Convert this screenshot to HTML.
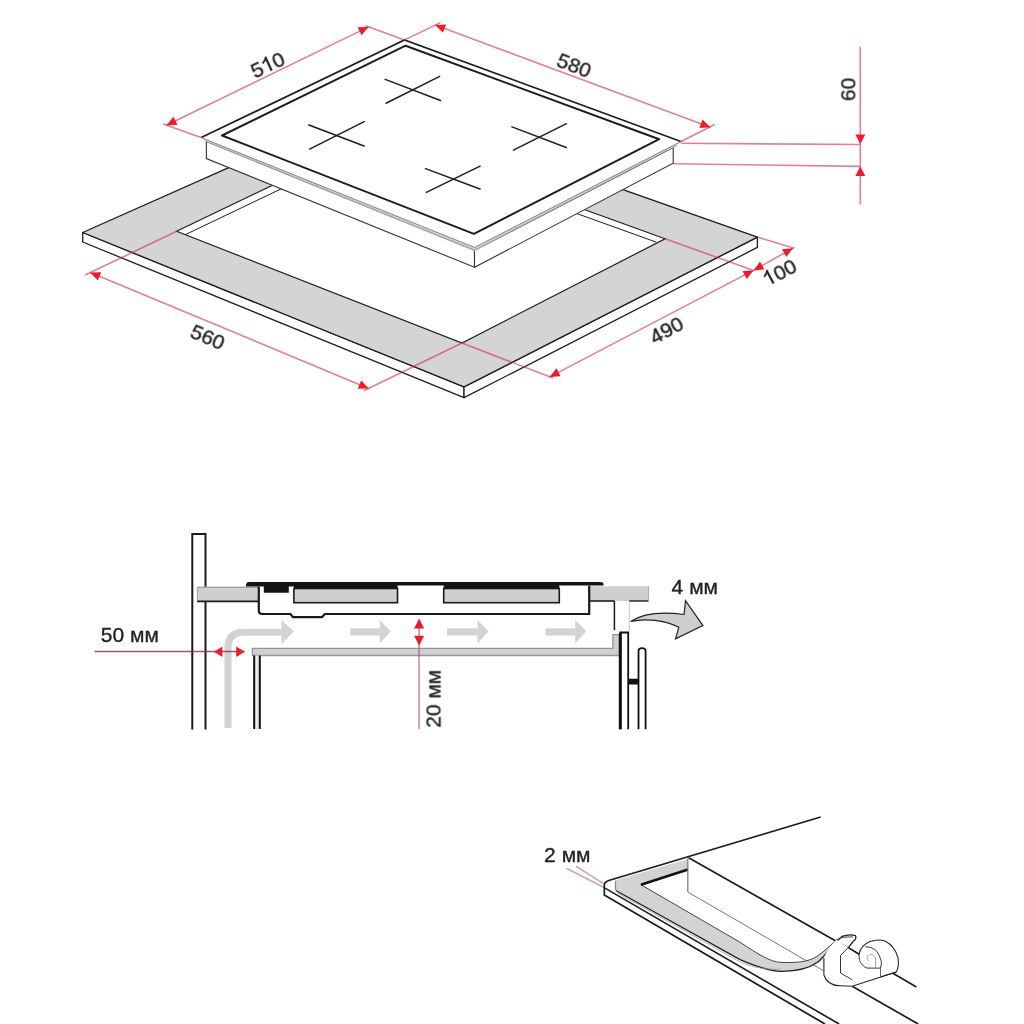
<!DOCTYPE html>
<html><head><meta charset="utf-8"><style>
html,body{margin:0;padding:0;background:#fff;}
svg{display:block;font-family:"Liberation Sans",sans-serif;}
text{will-change:transform;}
</style></head><body>
<svg width="1024" height="1024" viewBox="0 0 1024 1024">
<g>
<rect width="1024" height="1024" fill="#fff"/>
<polygon points="82.7,232.5 464.0,386.9 464.0,397.7 82.7,242.0" fill="#fff" stroke="#1e1e1e" stroke-width="1.3" stroke-linejoin="round"/>
<polygon points="464.0,386.9 757.4,237.1 757.4,247.4 464.0,397.7" fill="#fff" stroke="#1e1e1e" stroke-width="1.3" stroke-linejoin="round"/>
<polygon points="82.7,232.5 375.8,102.3 757.4,237.1 464.0,386.9" fill="#d4d4d6" stroke="#1e1e1e" stroke-width="1.3" stroke-linejoin="round"/>
<polygon points="176.6,231.3 378.1,134.6 665.0,238.8 462.0,343.0" fill="#fff" stroke="#1e1e1e" stroke-width="1.2" />
<line x1="185.4" y1="234.6" x2="378.7" y2="142.3" stroke="#1e1e1e" stroke-width="1.0" />
<line x1="656.4" y1="242.2" x2="378.7" y2="142.3" stroke="#1e1e1e" stroke-width="1.0" />
<polygon points="206.4,141.5 474.5,250.5 474.5,267.3 206.4,158.6" fill="#fff" stroke="#333" stroke-width="1.1" />
<polygon points="474.5,250.5 673.2,147.5 673.2,163.2 474.5,267.3" fill="#fff" stroke="#333" stroke-width="1.1" />
<polygon points="201.2,137.6 404.5,39.9 680.9,141.5 676.9,145.0 474.5,250.9 204.2,141.1" fill="#fff" stroke="none" stroke-width="1" />
<polyline points="201.2,137.6 404.5,39.9 680.9,141.5" fill="none" stroke="#1e1e1e" stroke-width="1.7" />
<polygon points="201.2,137.6 474.5,247.4 680.9,141.5 676.5,145.8 474.5,250.2 205.5,141.2" fill="#d0d0d0" stroke="none" stroke-width="1" />
<polyline points="201.2,137.6 474.5,247.4 680.9,141.5" fill="none" stroke="#7a7a7a" stroke-width="0.9" />
<polyline points="205.5,141.2 474.5,250.2 676.5,145.8" fill="none" stroke="#8a8a8a" stroke-width="0.8" />
<polygon points="222.0,135.5 405.6,45.7 659.2,139.2 473.9,233.9" fill="none" stroke="#1e1e1e" stroke-width="2.0" stroke-linejoin="round"/>
<line x1="384.6" y1="79.1" x2="441.1" y2="100.7" stroke="#1e1e1e" stroke-width="1.5" />
<line x1="385.5" y1="103.5" x2="440.2" y2="76.1" stroke="#1e1e1e" stroke-width="1.5" />
<line x1="308.3" y1="124.7" x2="364.7" y2="146.3" stroke="#1e1e1e" stroke-width="1.5" />
<line x1="309.1" y1="149.3" x2="364.7" y2="121.4" stroke="#1e1e1e" stroke-width="1.5" />
<line x1="511.3" y1="126.6" x2="566.9" y2="147.8" stroke="#1e1e1e" stroke-width="1.5" />
<line x1="512.9" y1="150.3" x2="566.9" y2="123.3" stroke="#1e1e1e" stroke-width="1.5" />
<line x1="424.9" y1="168.4" x2="480.6" y2="189.3" stroke="#1e1e1e" stroke-width="1.5" />
<line x1="425.8" y1="192.7" x2="480.6" y2="165.9" stroke="#1e1e1e" stroke-width="1.5" />
<line x1="201.2" y1="137.6" x2="163.2" y2="124.0" stroke="#d42a48" stroke-opacity="0.6" stroke-width="1.6"/>
<line x1="404.5" y1="39.9" x2="365.5" y2="25.8" stroke="#d42a48" stroke-opacity="0.6" stroke-width="1.6"/>
<line x1="166.5" y1="125.2" x2="368.6" y2="26.9" stroke="#d42a48" stroke-opacity="0.6" stroke-width="1.6"/>
<polygon points="166.5,125.2 173.5,116.8 177.5,124.9" fill="#ec1c2c" stroke="none" stroke-width="1" />
<polygon points="368.6,26.9 361.6,35.3 357.6,27.2" fill="#ec1c2c" stroke="none" stroke-width="1" />
<line x1="404.5" y1="39.9" x2="440.5" y2="22.6" stroke="#d42a48" stroke-opacity="0.6" stroke-width="1.6"/>
<line x1="680.9" y1="141.5" x2="714.8" y2="124.5" stroke="#d42a48" stroke-opacity="0.6" stroke-width="1.6"/>
<line x1="435.2" y1="25.1" x2="710.3" y2="127.3" stroke="#d42a48" stroke-opacity="0.6" stroke-width="1.6"/>
<polygon points="435.2,25.1 446.1,24.4 443.0,32.8" fill="#ec1c2c" stroke="none" stroke-width="1" />
<polygon points="710.3,127.3 699.4,128.0 702.5,119.6" fill="#ec1c2c" stroke="none" stroke-width="1" />
<line x1="680.9" y1="143.3" x2="859.7" y2="144.5" stroke="#d42a48" stroke-opacity="0.6" stroke-width="1.6"/>
<line x1="673.2" y1="163.8" x2="859.7" y2="166.4" stroke="#d42a48" stroke-opacity="0.6" stroke-width="1.6"/>
<line x1="860.3" y1="46.7" x2="860.3" y2="204.4" stroke="#d42a48" stroke-opacity="0.6" stroke-width="1.6"/>
<polygon points="860.3,144.1 855.3,134.6 865.3,134.6" fill="#ec1c2c" stroke="none" stroke-width="1" />
<polygon points="860.3,166.4 865.3,175.9 855.3,175.9" fill="#ec1c2c" stroke="none" stroke-width="1" />
<line x1="176.6" y1="231.3" x2="85.2" y2="275.0" stroke="#d42a48" stroke-opacity="0.6" stroke-width="1.6"/>
<line x1="462.0" y1="343.0" x2="363.8" y2="390.8" stroke="#d42a48" stroke-opacity="0.6" stroke-width="1.6"/>
<line x1="90.3" y1="272.5" x2="368.7" y2="388.4" stroke="#d42a48" stroke-opacity="0.6" stroke-width="1.6"/>
<polygon points="90.3,272.5 101.3,272.2 97.8,280.5" fill="#ec1c2c" stroke="none" stroke-width="1" />
<polygon points="368.7,388.4 357.7,388.7 361.2,380.4" fill="#ec1c2c" stroke="none" stroke-width="1" />
<line x1="462.0" y1="343.0" x2="552.9" y2="378.1" stroke="#d42a48" stroke-opacity="0.6" stroke-width="1.6"/>
<line x1="665.0" y1="238.8" x2="753.5" y2="270.4" stroke="#d42a48" stroke-opacity="0.6" stroke-width="1.6"/>
<line x1="549.7" y1="376.9" x2="753.5" y2="270.4" stroke="#d42a48" stroke-opacity="0.6" stroke-width="1.6"/>
<polygon points="549.7,376.9 556.5,368.3 560.6,376.3" fill="#ec1c2c" stroke="none" stroke-width="1" />
<polygon points="753.5,270.4 746.7,279.0 742.6,271.0" fill="#ec1c2c" stroke="none" stroke-width="1" />
<line x1="757.4" y1="237.1" x2="794.3" y2="248.2" stroke="#d42a48" stroke-opacity="0.6" stroke-width="1.6"/>
<line x1="753.5" y1="270.4" x2="792.9" y2="248.2" stroke="#d42a48" stroke-opacity="0.6" stroke-width="1.6"/>
<polygon points="753.5,270.4 760.0,261.6 764.4,269.4" fill="#ec1c2c" stroke="none" stroke-width="1" />
<polygon points="792.9,248.2 786.4,257.0 782.0,249.2" fill="#ec1c2c" stroke="none" stroke-width="1" />
<g transform="translate(267.4 64.1) rotate(-25)"><text x="-11.68" y="7.52" font-size="21" text-anchor="middle" fill="#222" stroke="#222" stroke-width="0.35">5</text><polygon points="0.15,7.52 2.02,7.52 2.02,-7.52 0.80,-7.52 0.25,-6.59 -0.80,-5.54 -2.48,-4.37 -3.84,-3.72 -3.84,-1.97 -2.27,-2.73 -0.90,-3.61 0.15,-4.41" fill="#222" stroke="#222" stroke-width="0.35"/><text x="11.68" y="7.52" font-size="21" text-anchor="middle" fill="#222" stroke="#222" stroke-width="0.35">0</text></g>
<g transform="translate(574.5 64.6) rotate(21)"><text x="0" y="7.52" font-size="21" text-anchor="middle" fill="#222" stroke="#222" stroke-width="0.35" >580</text></g>
<g transform="translate(847.3 89.4) rotate(-90)"><text x="0" y="7.52" font-size="21" text-anchor="middle" fill="#222" stroke="#222" stroke-width="0.35" >60</text></g>
<g transform="translate(208.1 336.3) rotate(23)"><text x="0" y="7.52" font-size="21" text-anchor="middle" fill="#222" stroke="#222" stroke-width="0.35" >560</text></g>
<g transform="translate(666.1 329.3) rotate(-28)"><text x="0" y="7.52" font-size="21" text-anchor="middle" fill="#222" stroke="#222" stroke-width="0.35" >490</text></g>
<g transform="translate(779.3 271.8) rotate(-28)"><polygon points="-11.53,7.52 -9.66,7.52 -9.66,-7.52 -10.88,-7.52 -11.42,-6.59 -12.47,-5.54 -14.15,-4.37 -15.52,-3.72 -15.52,-1.97 -13.94,-2.73 -12.58,-3.61 -11.53,-4.41" fill="#222" stroke="#222" stroke-width="0.35"/><text x="0.00" y="7.52" font-size="21" text-anchor="middle" fill="#222" stroke="#222" stroke-width="0.35">0</text><text x="11.68" y="7.52" font-size="21" text-anchor="middle" fill="#222" stroke="#222" stroke-width="0.35">0</text></g>
<path d="M192.3,729.5 L192.3,534.1 L205.5,534.1 L205.5,729.5" fill="none" stroke="#1a1a1a" stroke-width="2" />
<rect x="197" y="586.8" width="61.8" height="14.6" fill="#cfcfd1" stroke="none"/>
<line x1="197.0" y1="587.2" x2="258.8" y2="587.2" stroke="#888" stroke-width="0.9" />
<line x1="197.0" y1="601.4" x2="258.8" y2="601.4" stroke="#1a1a1a" stroke-width="1.6" />
<line x1="197.3" y1="587.0" x2="197.3" y2="601.4" stroke="#999" stroke-width="0.8" />
<rect x="589.8" y="586.2" width="58.8" height="14.8" fill="#cfcfd1" stroke="none"/>
<polyline points="589.8,601.0 614.4,601.0" fill="none" stroke="#1a1a1a" stroke-width="1.6" />
<polyline points="629.0,601.0 648.6,601.0" fill="none" stroke="#1a1a1a" stroke-width="1.4" />
<line x1="648.6" y1="586.2" x2="648.6" y2="601.0" stroke="#aaa" stroke-width="1.0" />
<line x1="614.4" y1="601.0" x2="614.4" y2="630.2" stroke="#1a1a1a" stroke-width="1.5" />
<line x1="629.3" y1="601.0" x2="629.3" y2="631.0" stroke="#c8c8c8" stroke-width="1.0" />
<path d="M258.8,586.4 L258.8,610.5 Q258.8,614 262.5,614 L290.5,614 L293,617.1 L322,617.1 L324.8,614 L589.2,614 L589.2,585.8" fill="none" stroke="#1a1a1a" stroke-width="2.2" />
<rect x="293.9" y="588.5" width="103.6" height="14.2" fill="#cfcfd1" stroke="#1a1a1a" stroke-width="1.6"/>
<rect x="443.7" y="588.5" width="115.6" height="14.2" fill="#cfcfd1" stroke="#1a1a1a" stroke-width="1.6"/>
<path d="M249,582.1 L600,582.1 Q603.5,582.1 603.5,584 L603.5,585.6 L559.3,585.6 L559.3,588.8 L443.7,588.8 L443.7,585.6 L397.6,585.6 L397.6,588.8 L293.9,588.8 L293.9,586.4 L288.8,586.4 L288.8,592.7 L263.8,592.7 L263.8,586.4 L245.9,586.4 Q245.9,582.1 249,582.1 Z" fill="#141414" stroke="none" stroke-width="1" />
<path d="M252.4,648.4 L612.9,648.4 L612.9,634.7 L619.4,634.7 L619.4,655.5 L252.4,655.5 Z" fill="#cfcfd1" stroke="#979799" stroke-width="1.3" />
<rect x="254.3" y="655.5" width="5.4" height="73.5" fill="#ececec" stroke="none"/>
<line x1="254.2" y1="655.5" x2="254.2" y2="729.0" stroke="#111" stroke-width="2" />
<line x1="259.8" y1="655.5" x2="259.8" y2="729.0" stroke="#111" stroke-width="2" />
<rect x="620" y="632.5" width="8" height="97" fill="#fff" stroke="none"/>
<path d="M620.3,729.3 L620.3,632.5 L628.2,632.5 L628.2,729.3" fill="none" stroke="#111" stroke-width="1.8" />
<line x1="620.3" y1="633.0" x2="620.3" y2="729.3" stroke="#111" stroke-width="3" />
<path d="M638.5,729.3 L638.5,651.5 Q638.5,648.2 642,648.2 Q645.6,648.2 645.6,651.5 L645.6,729.3" fill="#fff" stroke="#111" stroke-width="1.8" />
<rect x="628.2" y="678.7" width="10.3" height="5.8" fill="#111"/>
<path d="M228,728 L228,648 Q228,632.3 243.7,632.3 L281.4,632.3" fill="none" stroke="#d3d3d5" stroke-width="7" />
<polygon points="281.4,620.3 293.9,631.3 281.4,644.5" fill="#d3d3d5" stroke="none" stroke-width="1" />
<rect x="350.2" y="628.3" width="29.600000000000023" height="7.2" fill="#d3d3d5"/>
<polygon points="379.8,620.1 390.8,631.3 379.8,643.5" fill="#d3d3d5" stroke="none" stroke-width="1" />
<rect x="447.1" y="628.3" width="30.299999999999955" height="7.2" fill="#d3d3d5"/>
<polygon points="477.4,620.1 488.6,631.3 477.4,643.5" fill="#d3d3d5" stroke="none" stroke-width="1" />
<rect x="545.3" y="628.3" width="29.90000000000009" height="7.2" fill="#d3d3d5"/>
<polygon points="575.2,620.1 586.3,631.3 575.2,643.5" fill="#d3d3d5" stroke="none" stroke-width="1" />
<line x1="94.4" y1="651.5" x2="244.7" y2="651.5" stroke="#8a2a40" stroke-opacity="0.8" stroke-width="1.5"/>
<polygon points="213.9,651.7 222.4,646.5 222.4,657.0" fill="#ec1c2c" stroke="none" stroke-width="1" />
<polygon points="244.7,651.7 236.2,657.0 236.2,646.5" fill="#ec1c2c" stroke="none" stroke-width="1" />
<line x1="419.1" y1="625.0" x2="419.1" y2="729.2" stroke="#b03060" stroke-opacity="0.5" stroke-width="1.8"/>
<polygon points="419.1,618.5 424.1,628.5 414.1,628.5" fill="#ec1c2c" stroke="none" stroke-width="1" />
<polygon points="419.1,645.8 414.1,635.8 424.1,635.8" fill="#ec1c2c" stroke="none" stroke-width="1" />
<path d="M630.7,621.5 C645,612 665,612 684,614.5 L685.5,600.7 L702.9,625.6 L675.5,638.9 L678.8,627.3 C665,620 645,618 630.7,621.5 Z" fill="#cfcfd1" stroke="#222" stroke-width="1.2" />
<g transform="translate(129.9 634.6) rotate(0)"><text x="0" y="7.52" font-size="21" text-anchor="middle" fill="#222" stroke="#222" stroke-width="0.35" >50 мм</text></g>
<g transform="translate(694.8 586.5) rotate(0)"><text x="0" y="7.52" font-size="21" text-anchor="middle" fill="#222" stroke="#222" stroke-width="0.35" >4 мм</text></g>
<g transform="translate(432.5 698.8) rotate(-90)"><text x="0" y="7.52" font-size="21" text-anchor="middle" fill="#222" stroke="#222" stroke-width="0.35" >20 мм</text></g>
<g transform="translate(567.3 854.3) rotate(0)"><text x="0" y="7.52" font-size="21" text-anchor="middle" fill="#222" stroke="#222" stroke-width="0.35" >2 мм</text></g>
<line x1="566.3" y1="868.3" x2="604.5" y2="887.8" stroke="#a03050" stroke-opacity="0.45" stroke-width="1.6"/>
<line x1="576.1" y1="866.3" x2="603.5" y2="883.6" stroke="#a03050" stroke-opacity="0.45" stroke-width="1.6"/>
<line x1="688.6" y1="857.7" x2="895.0" y2="974.5" stroke="#1a1a1a" stroke-width="1.6" />
<line x1="687.8" y1="892.0" x2="823.4" y2="970.6" stroke="#555" stroke-width="0.8" />
<path d="M615.5,880.3 L688,859.0 L688,869.5 L640.9,884.7 L740,942.2 C758,954 770,962 781,962.4 C795,963 808,962 816,957 C825,951 831,945 836,940 L841.9,936.4 C833,945 828,953 818,962 C808,969 797,971.5 781,971.3 C768,971 755,966 740,959.6 L615.8,890.5 Z" fill="#d3d3d5" stroke="none" stroke-width="1" />
<path d="M615.8,890.5 L740,959.6 C755,966 768,971 781,971.3 C797,971.5 808,969 818,962 C828,953 833,945 841.9,936.4 C846,935 852,934.5 855.5,935.7 C856.5,938 855,940 853.5,941 L848.3,947.6" fill="none" stroke="#222" stroke-width="1.3" />
<path d="M640.9,884.7 L740,942.2 C758,954 770,962 781,962.4 C795,963 808,962 816,957 C825,951 831,945 836,940 C840,937.5 846,936.5 853,937" fill="none" stroke="#444" stroke-width="1.0" />
<path d="M617.6,893 L740,962 C756,968.5 769,970 781,969" fill="none" stroke="#999" stroke-width="0.8" />
<path d="M820.6,817 L609.6,880.3 Q604.3,882 604.3,885 L604.3,894.9 L825,1024" fill="none" stroke="#1a1a1a" stroke-width="1.7" />
<line x1="605.0" y1="888.2" x2="839.1" y2="1024.0" stroke="#1a1a1a" stroke-width="1.5" />
<line x1="640.9" y1="884.7" x2="688.0" y2="869.5" stroke="#111" stroke-width="2.6" />
<line x1="615.5" y1="880.8" x2="615.5" y2="890.3" stroke="#888" stroke-width="1.2" />
<line x1="687.8" y1="858.5" x2="687.8" y2="892.0" stroke="#777" stroke-width="1.2" />
<line x1="852.2" y1="986.2" x2="918.2" y2="1024.0" stroke="#1a1a1a" stroke-width="1.6" />
<line x1="894.2" y1="974.0" x2="916.4" y2="987.0" stroke="#1a1a1a" stroke-width="1.6" />
<path d="M823.9,958 L823.9,975 C826,982 832,985.5 839.5,985.7 L852.2,986.2 L896.2,972 C899,964 898,952 894,947 C890,942 884,939.5 879,939.8 C872,940 866,942.5 862,947 L859,954.4 L848.3,947.6 L836.6,939.8 C830,946 826,953 823.9,958 Z" fill="#fff" stroke="none" stroke-width="1" />
<path d="M823.9,958 L823.9,975 C826,982 832,985.5 839.5,985.7 L852.2,986.2 L896.2,972" fill="none" stroke="#222" stroke-width="1.1" />
<path d="M848.3,947.6 L840.5,955.4 L840.5,973 L852.2,979.8" fill="none" stroke="#333" stroke-width="1.0" />
<line x1="848.3" y1="947.6" x2="859.0" y2="954.4" stroke="#1a1a1a" stroke-width="1.5" />
<path d="M859,954.4 C860,948 864,944 870,941.5 C876,939.5 881.5,939.8 885,941 C891,944 896,950 898,958 C899,964 898,969 896.2,972 L880.5,976.9" fill="none" stroke="#222" stroke-width="1.1" />
<path d="M859,954.4 C859,959 860,963 862,964.2 C864,967 866,968 867.9,968.1 L880.5,968.1 C881.5,965 881.5,962 881,960.3 C879,954 876.5,950.5 874.7,949.5 C871,947 867,946.5 865.5,947" fill="none" stroke="#333" stroke-width="1.0" />
<path d="M875.6,968 L875.6,959 C875,955 871,953.5 868.5,955 C866,957 867,960 869,961" fill="none" stroke="#888" stroke-width="0.8" />
<line x1="880.5" y1="968.1" x2="880.5" y2="976.9" stroke="#555" stroke-width="0.9" />
</g>
</svg></body></html>
